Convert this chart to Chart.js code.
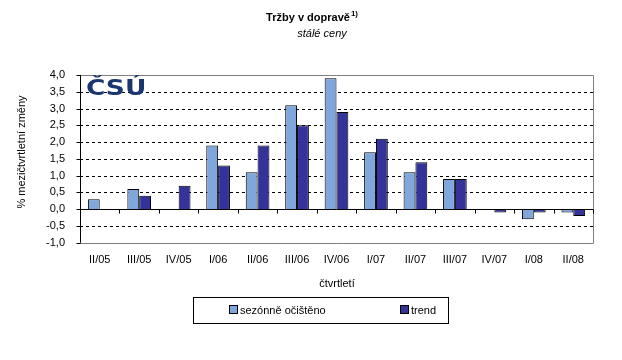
<!DOCTYPE html>
<html>
<head>
<meta charset="utf-8">
<script src="https://cdn.jsdelivr.net/npm/chart.js@4"></script>
<style>
  html, body { margin: 0; padding: 0; background: #fff; }
  #wrap { width: 622px; height: 360px; }
</style>
</head>
<body>
<div id="wrap"><canvas id="myChart" width="622" height="360"></canvas></div>
<script>
const labels = ["II/05","III/05","IV/05","I/06","II/06","III/06","IV/06","I/07","II/07","III/07","IV/07","I/08","II/08"];
const seasonal = [0.3, 0.6, null, 1.9, 1.1, 3.1, 3.9, 1.7, 1.1, 0.9, null, -0.3, -0.1];
const trend = [null, 0.4, 0.7, 1.3, 1.9, 2.5, 2.9, 2.1, 1.4, 0.9, -0.1, -0.1, -0.2];
const seriesNames = ["sezónně očištěno", "trend"];
const seriesColors = ["#7FA7DB", "#333399"];

const FONT = "'Liberation Sans', Arial, sans-serif";

// grid lines, axis at zero and category ticks
const frame = {
  id: "frame",
  beforeDatasetsDraw(chart) {
    const c = chart.ctx, a = chart.chartArea, y = chart.scales.y;
    c.save();
    c.lineWidth = 1;
    c.strokeStyle = "#000";
    c.setLineDash([3, 3]);
    for (let v = -0.5; v < 4; v += 0.5) {
      if (Math.abs(v) < 1e-9) continue;
      const py = Math.round(y.getPixelForValue(v)) + 0.5;
      c.beginPath(); c.moveTo(a.left, py); c.lineTo(a.right, py); c.stroke();
    }
    c.setLineDash([]);
    c.strokeStyle = "#808080";
    c.beginPath();
    c.moveTo(a.left, Math.round(a.top) + 0.5);
    c.lineTo(Math.round(a.right) + 0.5, Math.round(a.top) + 0.5);
    c.lineTo(Math.round(a.right) + 0.5, Math.round(a.bottom) + 0.5);
    c.lineTo(a.left, Math.round(a.bottom) + 0.5);
    c.stroke();
    c.restore();
  },
  afterDatasetsDraw(chart) {
    const c = chart.ctx, a = chart.chartArea, y = chart.scales.y;
    const z = Math.round(y.getPixelForValue(0)) + 0.5;
    c.save();
    c.strokeStyle = "#000";
    c.lineWidth = 1;
    c.beginPath();
    c.moveTo(a.left, z); c.lineTo(a.right, z);
    const n = labels.length, w = (a.right - a.left) / n;
    for (let i = 1; i <= n; i++) {
      const px = Math.round(a.left + i * w) + 0.5;
      c.moveTo(px, z); c.lineTo(px, z + 4);
    }
    c.stroke();
    // left axis with ticks
    const lx = Math.round(a.left) + 0.5;
    c.beginPath();
    c.moveTo(lx, a.top); c.lineTo(lx, a.bottom);
    for (let v = -1; v <= 4; v += 0.5) {
      const py = Math.round(y.getPixelForValue(v)) + 0.5;
      c.moveTo(lx - 4, py); c.lineTo(lx, py);
    }
    c.stroke();
    // logo
    c.fillStyle = "#1A3670";
    c.font = "bold 22px 'DejaVu Sans', sans-serif";
    c.textBaseline = "alphabetic";
    c.textAlign = "left";
    c.translate(a.left + 6, a.top + 20);
    c.scale(1.2, 1);
    c.fillText("ČSÚ", 0, 0);
    c.restore();
  },
  afterDraw(chart) {
    const c = chart.ctx;
    c.save();
    c.fillStyle = "#000";
    c.textBaseline = "alphabetic";
    // title
    c.font = "bold 11px " + FONT;
    const t = "Tržby v dopravě";
    const tw = c.measureText(t).width;
    c.textAlign = "left";
    c.fillText(t, 308 - tw / 2, 21);
    c.font = "bold 8px " + FONT;
    c.fillText("1)", 308 + tw / 2 + 1, 16);
    c.font = "italic 11px " + FONT;
    c.textAlign = "center";
    c.fillText("stálé ceny", 322, 37);
    // axis titles
    c.font = "11px " + FONT;
    c.fillText("čtvrtletí", 337, 287);
    c.save();
    c.translate(25, 152);
    c.rotate(-Math.PI / 2);
    c.fillText("% mezičtvrtletní změny", 0, 0);
    c.restore();
    // legend
    c.strokeStyle = "#000";
    c.lineWidth = 1;
    c.strokeRect(193.5, 297.5, 255, 26);
    const items = [[230, seriesNames[0]], [401, seriesNames[1]]];
    c.textAlign = "left";
    c.textBaseline = "middle";
    items.forEach((it, i) => {
      c.fillStyle = seriesColors[i];
      c.fillRect(it[0], 306, 7, 7);
      c.strokeRect(it[0] - 0.5, 305.5, 8, 8);
      c.fillStyle = "#000";
      c.fillText(it[1], it[0] + 10, 310.5);
    });
    c.restore();
  }
};

const ctx = document.getElementById("myChart");
new Chart(ctx, {
  type: "bar",
  data: {
    labels: labels,
    datasets: [
      { label: seriesNames[0], data: seasonal, backgroundColor: seriesColors[0], borderColor: "#000", borderWidth: 1 },
      { label: seriesNames[1], data: trend, backgroundColor: seriesColors[1], borderColor: "#000", borderWidth: 1 }
    ]
  },
  options: {
    responsive: false,
    animation: false,
    layout: { padding: { left: 0, top: 75, right: 29, bottom: 90 } },
    datasets: { bar: { categoryPercentage: 0.6, barPercentage: 1 } },
    plugins: { legend: { display: false }, tooltip: { enabled: false } },
    scales: {
      x: {
        grid: { display: false },
        border: { display: false },
        ticks: { color: "#000", font: { family: FONT, size: 11 }, padding: 3, maxRotation: 0, autoSkip: false }
      },
      y: {
        min: -1, max: 4,
        afterFit(s) { s.width = 80; },
        grid: { display: false },
        border: { display: false },
        ticks: {
          stepSize: 0.5, autoSkip: false, color: "#000", padding: 7,
          font: { family: FONT, size: 11 },
          callback: v => v.toFixed(1).replace(".", ",")
        }
      }
    }
  },
  plugins: [frame]
});
</script>
</body>
</html>
